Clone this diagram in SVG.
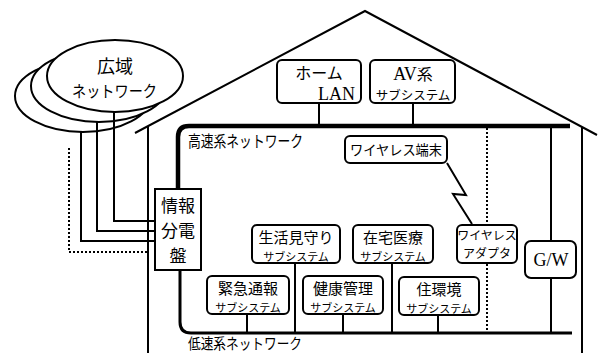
<svg xmlns="http://www.w3.org/2000/svg" width="600" height="353" viewBox="0 0 600 353">
<style>
.ln{stroke:#000;stroke-width:2;fill:none}
.hs{stroke:#000;stroke-width:4.5;fill:none}
.lsn{stroke:#000;stroke-width:3;fill:none}
.dot{stroke:#000;stroke-width:2;stroke-dasharray:2 2;fill:none}
.box{fill:#fff;stroke:#000;stroke-width:2}
.ell{fill:#fff;stroke:#000;stroke-width:2}
.jp{font-family:"Noto Sans CJK JP","Noto Sans",sans-serif;fill:#000}
.sr{font-family:"Liberation Serif","Noto Sans CJK JP",serif;fill:#000}
.c{text-anchor:middle}
.t1{font-size:15px}
.t2{font-size:11px}
</style>
<rect width="600" height="353" fill="#fff"/>
<g id="house">
<polyline class="ln" points="135,133 365,11 597,135"/>
<line class="ln" x1="148" y1="126" x2="148" y2="353"/>
<line class="ln" x1="582" y1="127" x2="582" y2="353"/>
</g>
<g id="wan">
<ellipse class="ell" cx="83" cy="96" rx="68" ry="36"/>
<ellipse class="ell" cx="99" cy="86" rx="68" ry="36"/>
<ellipse class="ell" cx="115" cy="76" rx="68" ry="36"/>
<text class="jp c" x="115" y="73" font-size="18">広域</text>
<text class="jp" x="72" y="97" font-size="16" textLength="85" lengthAdjust="spacingAndGlyphs">ネットワーク</text>
</g>
<g id="connectors">
<polyline class="ln" points="114,112 114,221 155,221"/>
<polyline class="ln" points="97,122 97,231 155,231"/>
<polyline class="ln" points="81,132 81,241 155,241"/>
<polyline class="dot" points="69,148 69,252 148,252"/>
<path class="hs" d="M178,189 V137 Q178,126 189,126 H570"/>
<path class="lsn" d="M180,270 V322 Q180,333 191,333 H572"/>
<line class="ln" x1="319" y1="103" x2="319" y2="126"/>
<line class="ln" x1="413" y1="103" x2="413" y2="126"/>
<line class="ln" x1="551" y1="126" x2="551" y2="333"/>
<line class="dot" x1="487" y1="128" x2="487" y2="331"/>
<line class="ln" x1="247" y1="313" x2="247" y2="333"/>
<line class="ln" x1="295" y1="262" x2="295" y2="333"/>
<line class="ln" x1="343" y1="313" x2="343" y2="333"/>
<line class="ln" x1="392" y1="262" x2="392" y2="333"/>
<line class="ln" x1="438" y1="314" x2="438" y2="333"/>
<polyline class="ln" points="447,163 466,195 453,194 472,224"/>
</g>
<text class="jp" x="188" y="147" font-size="16" textLength="115" lengthAdjust="spacingAndGlyphs">高速系ネットワーク</text>
<text class="jp" x="188" y="348.5" font-size="15" textLength="114" lengthAdjust="spacingAndGlyphs">低速系ネットワーク</text>
<g id="homelan">
<rect class="box" x="277" y="60" width="84" height="43" rx="5"/>
<text class="jp c" x="319" y="79" font-size="16">ホーム</text>
<text class="sr" x="355" y="100" font-size="18" text-anchor="end">LAN</text>
</g>
<g id="av">
<rect class="box" x="370" y="60" width="85" height="43" rx="5"/>
<text class="c" x="413" y="80" font-size="18"><tspan class="sr">AV</tspan><tspan class="jp" font-size="16">系</tspan></text>
<text class="jp c" x="413" y="100" font-size="12.5">サブシステム</text>
</g>
<g id="wireless-terminal">
<rect class="box" x="345" y="136" width="102" height="27" rx="5"/>
<text class="jp" x="350" y="155" font-size="14" textLength="92" lengthAdjust="spacingAndGlyphs">ワイヤレス端末</text>
</g>
<g id="info-panel">
<rect class="box" x="155" y="189" width="46" height="81"/>
<text class="jp c" x="178" y="212" font-size="17">情報</text>
<text class="jp c" x="178" y="237" font-size="17">分電</text>
<text class="jp c" x="178" y="262" font-size="17">盤</text>
</g>
<g id="seikatsu">
<rect class="box" x="252" y="225" width="88" height="38" rx="5"/>
<text class="jp c t1" x="296" y="243">生活見守り</text>
<text class="jp c t2" x="296" y="260.5">サブシステム</text>
</g>
<g id="zaitaku">
<rect class="box" x="353" y="225" width="80" height="38" rx="5"/>
<text class="jp c t1" x="393" y="243">在宅医療</text>
<text class="jp c t2" x="393" y="260.5">サブシステム</text>
</g>
<g id="kinkyu">
<rect class="box" x="207" y="276" width="82" height="38" rx="5"/>
<text class="jp c t1" x="248" y="294">緊急通報</text>
<text class="jp c t2" x="248" y="311.5">サブシステム</text>
</g>
<g id="kenko">
<rect class="box" x="303" y="276" width="80" height="38" rx="5"/>
<text class="jp c t1" x="343" y="294">健康管理</text>
<text class="jp c t2" x="343" y="311.5">サブシステム</text>
</g>
<g id="jukankyo">
<rect class="box" x="399" y="277" width="80" height="38" rx="5"/>
<text class="jp c t1" x="439" y="295">住環境</text>
<text class="jp c t2" x="439" y="312.5">サブシステム</text>
</g>
<g id="wireless-adapter">
<rect class="box" x="457" y="225" width="60" height="38" rx="5"/>
<text class="jp c" x="487" y="240" font-size="12">ワイヤレス</text>
<text class="jp c" x="487" y="257.5" font-size="12">アダプタ</text>
</g>
<g id="gw">
<rect class="box" x="525" y="241" width="51" height="37" rx="6"/>
<text class="sr c" x="551" y="266" font-size="18">G/W</text>
</g>
</svg>
